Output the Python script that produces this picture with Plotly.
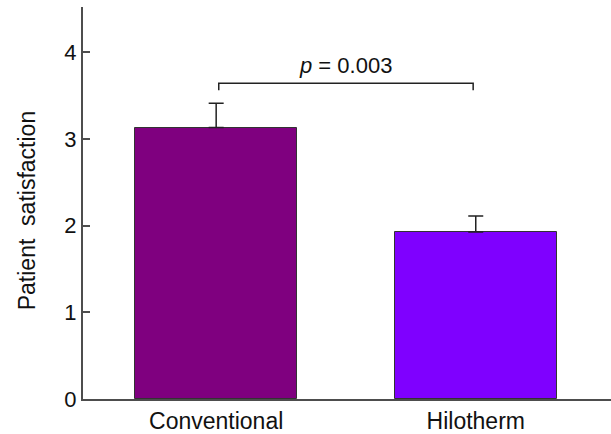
import plotly.graph_objects as go

categories = ["Conventional", "Hilotherm"]
means = [3.13, 1.925]
errors_up = [0.28, 0.185]
bar_colors = ["#7f007f", "#7f00ff"]
y_ticks = [0, 1, 2, 3, 4]
bracket_x = [0.01, 0.99]
bracket_top = 3.64
bracket_leg = 3.56
p_label = "<i>p</i> = 0.003"
y_title = "Patient  satisfaction"

FONT = "Liberation Sans, Arial, sans-serif"

fig = go.Figure()
fig.add_trace(go.Bar(
    x=list(range(len(categories))),
    y=means,
    width=0.624,
    marker=dict(color=bar_colors, line=dict(color="#333333", width=1)),
    error_y=dict(type="data", array=errors_up, arrayminus=[0] * len(means),
                 symmetric=False, color="#222222", thickness=1.5, width=7.5),
    showlegend=False,
))

# significance bracket
fig.add_trace(go.Scatter(
    x=[bracket_x[0], bracket_x[0], bracket_x[1], bracket_x[1]],
    y=[bracket_leg, bracket_top, bracket_top, bracket_leg],
    mode="lines", line=dict(color="#222222", width=1.5),
    hoverinfo="skip", showlegend=False,
))
fig.add_annotation(
    x=sum(bracket_x) / 2, y=bracket_top, yshift=3, text=p_label,
    showarrow=False, yanchor="bottom", font=dict(size=22, color="#111111", family=FONT),
)
# y-axis title (placed as annotation to match reference offset)
fig.add_annotation(
    xref="paper", yref="paper", x=-0.106, y=0.479, text=y_title, textangle=-90,
    showarrow=False, xanchor="center", yanchor="middle",
    font=dict(size=23, color="#111111", family=FONT),
)

fig.update_layout(
    width=611, height=434,
    margin=dict(l=83, r=0, t=7, b=35),
    plot_bgcolor="white", paper_bgcolor="white",
    font=dict(family=FONT, size=22, color="#111111"),
    bargap=0,
    xaxis=dict(
        range=[-0.513, 1.521],
        tickmode="array", tickvals=list(range(len(categories))), ticktext=categories,
        showline=True, linecolor="#4d4d4d", linewidth=2,
        ticks="", showgrid=False, zeroline=False,
        tickfont=dict(size=23),
    ),
    yaxis=dict(
        range=[0, 4.52],
        tickmode="array", tickvals=y_ticks,
        showline=True, linecolor="#4d4d4d", linewidth=2,
        ticks="inside", ticklen=7, tickwidth=1.5, tickcolor="#4d4d4d",
        showgrid=False, zeroline=False,
        tickfont=dict(size=22),
    ),
)

fig.write_html("out.html", config={"displayModeBar": False},
               post_script="document.body.style.margin='0';")
